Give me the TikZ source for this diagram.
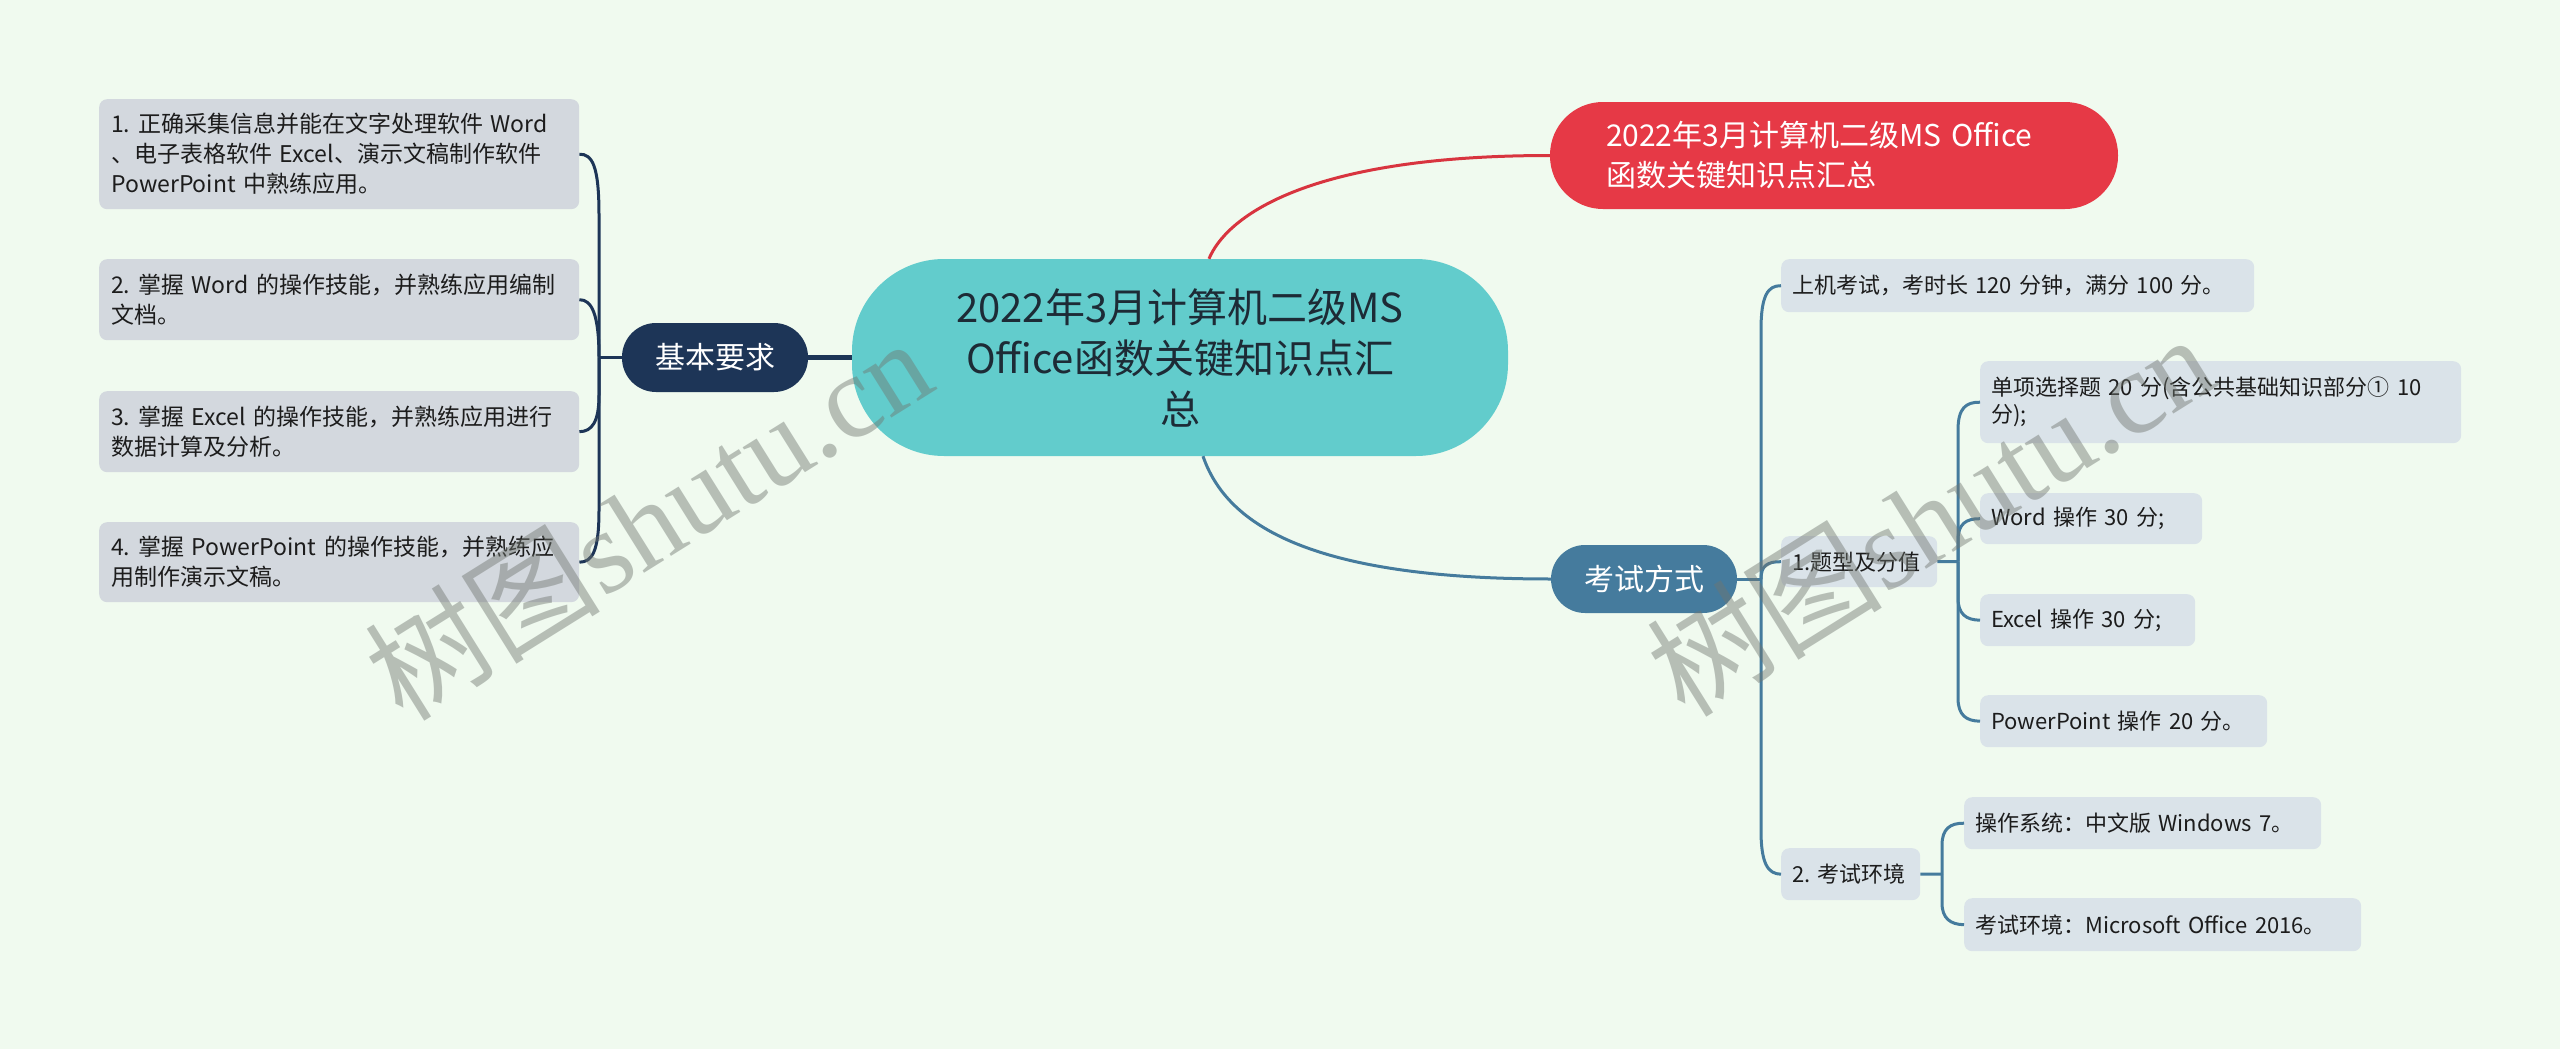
\documentclass[tikz,border=0pt]{standalone}
\usepackage{fontspec}
\setmainfont{Noto Sans CJK SC}
\newfontfamily\wmserif{Liberation Serif}
\newfontfamily\wmcjk{Noto Sans CJK SC}
\frenchspacing
\definecolor{bg}{HTML}{F0FAEF}
\definecolor{navy}{HTML}{1D3557}
\definecolor{steel}{HTML}{457B9D}
\definecolor{redc}{HTML}{E63946}
\definecolor{redline}{HTML}{D8343F}
\definecolor{teal}{HTML}{62CCCC}
\definecolor{lgray}{HTML}{D3D8DE}
\definecolor{rgray}{HTML}{DAE3E9}
\definecolor{leaftxt}{HTML}{1C1C1C}
\definecolor{centxt}{HTML}{1D2B36}
\definecolor{wm}{HTML}{707670}
\begin{document}
\begin{tikzpicture}[x=1pt,y=-1pt,
  every node/.style={inner sep=0pt},
  lbox/.style={rectangle, rounded corners=8pt, fill=lgray, text=leaftxt,
    font=\fontsize{23}{30}\selectfont, align=left, inner xsep=12pt, inner ysep=0pt, anchor=north west},
  rbox/.style={rectangle, rounded corners=8pt, fill=rgray, text=leaftxt,
    font=\fontsize{22}{27}\selectfont, align=left, inner xsep=11pt, inner ysep=0pt, anchor=north west},
  navyl/.style={draw=navy, line width=3pt},
  bluel/.style={draw=steel, line width=3pt},
  wmark/.style={rotate=32, text=wm, text opacity=0.45}
]
\fill[bg] (0,0) rectangle (2560,1049);
\useasboundingbox (0,0) rectangle (2560,1049);

% central and main branches
\node[rectangle, rounded corners=92pt, fill=teal, text=centxt, minimum width=656pt, minimum height=197pt,
  align=center, font=\fontsize{40}{51}\selectfont] (cen) at (1180,357.5)
  {2022年3月计算机二级MS\\Office函数关键知识点汇\\总};
\node[rectangle, rounded corners=53pt, fill=redc, text=white, minimum height=107pt, text width=456pt,
  inner xsep=56pt, align=left, font=\fontsize{30}{40}\selectfont] (red) at (1834,155.5)
  {\mbox{2022年3月计算机二级MS Office}\\函数关键知识点汇总};
\node[rectangle, rounded corners=34pt, fill=navy, text=white, minimum width=186pt, minimum height=69pt,
  font=\fontsize{30}{36}\selectfont] (kb) at (715,357.5) {基本要求};
\node[rectangle, rounded corners=34pt, fill=steel, text=white, minimum width=186pt, minimum height=68pt,
  font=\fontsize{30}{36}\selectfont] (ks) at (1644,579) {考试方式};

% left leaves
\node[lbox, text width=456pt, minimum height=110pt] (b1) at (99,99)
  {\mbox{1. 正确采集信息并能在文字处理软件 Word}\\\mbox{、电子表格软件 Excel、演示文稿制作软件}\\PowerPoint 中熟练应用。};
\node[lbox, text width=456pt, minimum height=81pt] (b2) at (99,259)
  {\mbox{2. 掌握 Word 的操作技能，并熟练应用编制}\\文档。};
\node[lbox, text width=456pt, minimum height=81pt] (b3) at (99,391)
  {\mbox{3. 掌握 Excel 的操作技能，并熟练应用进行}\\数据计算及分析。};
\node[lbox, text width=456pt, minimum height=80pt] (b4) at (99,522)
  {\mbox{4. 掌握 PowerPoint 的操作技能，并熟练应}\\用制作演示文稿。};

% right leaves
\node[rbox, text width=451pt, minimum height=53pt] (s1) at (1781,259) {\mbox{上机考试，考时长 120 分钟，满分 100 分。}};
\node[rbox, text width=134pt, minimum height=51pt] (s2) at (1781,536) {\mbox{1.题型及分值}};
\node[rbox, text width=117pt, minimum height=52pt] (s3) at (1781,848) {\mbox{2. 考试环境}};
\node[rbox, text width=459pt, minimum height=82pt] (c1) at (1980,361) {\mbox{单项选择题 20 分(含公共基础知识部分① 10}\\分);};
\node[rbox, text width=200pt, minimum height=51pt] (c2) at (1980,493) {\mbox{Word 操作 30 分;}};
\node[rbox, text width=193pt, minimum height=52pt] (c3) at (1980,594) {\mbox{Excel 操作 30 分;}};
\node[rbox, text width=265pt, minimum height=52pt] (c4) at (1980,695) {\mbox{PowerPoint 操作 20 分。}};
\node[rbox, text width=335pt, minimum height=52pt] (d1) at (1964,797) {\mbox{操作系统：中文版 Windows 7。}};
\node[rbox, text width=375pt, minimum height=53pt] (d2) at (1964,898) {\mbox{考试环境：Microsoft Office 2016。}};

% main connectors
\draw[draw=redline, line width=3pt] ([xshift=29pt]cen.north) .. controls (1225,220) and (1300,155.5) .. (red.west);
\draw[bluel] ([xshift=23pt]cen.south) .. controls (1225,520) and (1300,579) .. (ks.west);
\draw[draw=navy, line width=5pt] (cen.west) -- (kb.east);

% left bracket
\coordinate (LT) at (599,357.5);
\draw[navyl] (kb.west) -- (LT);
\draw[navyl] (LT) -- (599,215) .. controls (599,165) and (592,154) .. (b1.east);
\draw[navyl] (LT) .. controls (599,315) and (592,299.5) .. (b2.east);
\draw[navyl] (LT) -- (599,395) .. controls (599,422) and (592,431.5) .. (b3.east);
\draw[navyl] (LT) -- (599,510) .. controls (599,552) and (592,562) .. (b4.east);

% right trunk
\coordinate (RT) at (1761,579);
\draw[bluel] (ks.east) -- (RT);
\draw[bluel] (RT) -- (1761,330) .. controls (1761,295) and (1768,285.5) .. (s1.west);
\draw[bluel] (RT) .. controls (1761,566) and (1767,561.5) .. (s2.west);
\draw[bluel] (RT) -- (1761,830) .. controls (1761,864) and (1768,874) .. (s3.west);

\coordinate (ST1) at (1958,561.5);
\draw[bluel] (s2.east) -- (ST1);
\draw[bluel] (ST1) -- (1958,430) .. controls (1958,408) and (1966,402) .. (c1.west);
\draw[bluel] (ST1) -- (1958,540) .. controls (1958,524) and (1966,518.5) .. (c2.west);
\draw[bluel] (ST1) -- (1958,598) .. controls (1958,614) and (1966,620) .. (c3.west);
\draw[bluel] (ST1) -- (1958,698) .. controls (1958,715) and (1966,721) .. (c4.west);

\coordinate (ST2) at (1942,874);
\draw[bluel] (s3.east) -- (ST2);
\draw[bluel] (ST2) -- (1942,845) .. controls (1942,829) and (1950,823) .. (d1.west);
\draw[bluel] (ST2) -- (1942,903) .. controls (1942,918) and (1950,924.5) .. (d2.west);

% watermarks
\node[wmark, font=\fontsize{118}{118}\selectfont] (wm1) at (648,518) {\wmcjk 树图\wmserif shutu.cn};
\node[wmark, font=\fontsize{118}{118}\selectfont] (wm2) at (1930,514) {\wmcjk 树图\wmserif shutu.cn};
\end{tikzpicture}
\end{document}
